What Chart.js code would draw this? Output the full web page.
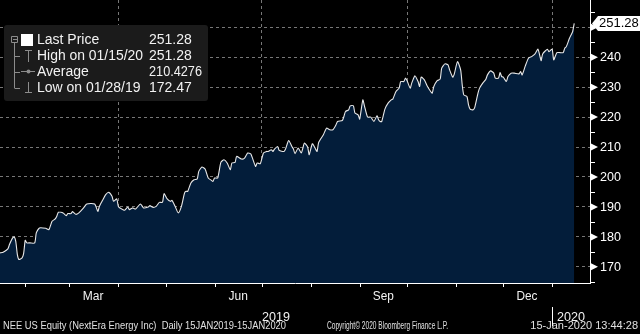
<!DOCTYPE html>
<html>
<head>
<meta charset="utf-8">
<script src="https://cdn.jsdelivr.net/npm/chart.js@4.4.1/dist/chart.umd.min.js"></script>
<style>
html,body{margin:0;padding:0;background:#000;}
canvas{display:block;}
</style>
</head>
<body>
<canvas id="myChart" width="640" height="334"></canvas>
<script>
// days counted from 15 Jan 2019, closing prices
const days = [
  1,3,6,7,9,10,11,12,13,15,16,17,18,20,23,24,26,30,32,34,36,37,38,41,43,44,46,47,49,51,54,56,61,63,64,66,68,70,72,73,75,76,
  77,80,82,83,85,87,90,92,95,96,98,100,102,104,105,107,109,110,112,114,116,118,119,120,122,124,126,127,129,131,133,135,136,137,139,141,143,145,147,148,150,
  151,154,156,158,160,163,164,166,168,170,171,173,174,175,177,178,181,182,184,186,187,188,190,192,193,194,196,197,199,201,202,203,206,208,210,212,214,215,218,219,220,222,
  223,225,226,228,229,231,232,234,236,238,240,241,242,243,245,247,249,250,252,254,255,257,258,259,261,262,264,266,267,268,270,272,274,275,276,278,280,281,283,285,286,288,289,291,293,
  294,295,297,298,299,301,302,304,305,307,309,310,312,314,315,317,318,319,320,322,323,325,327,330,331,332,334,336,338,340,342,344,345,348,349,351,352,354,356,358,359,360,362,363,364,365
];
const prices = [
  174.67,174.87,176.0,177.43,179.67,180.0,178.53,174.1,172.47,173.0,174.5,178.87,178.0,178.0,178.0,181.33,183.0,182.87,182.43,185.2,186.0,186.87,188.2,188.0,187.1,187.77,187.77,188.43,187.53,188.0,189.67,191.0,191.0,188.53,190.2,192.2,194.1,194.87,193.53,191.87,192.67,190.2,
  189.67,188.87,190.0,189.1,189.67,189.33,191.0,189.67,190.0,190.43,189.87,190.2,191.53,191.53,194.43,192.67,191.87,192.2,190.2,188.0,190.2,194.67,195.2,195.2,198.0,199.1,199.33,201.87,203.33,202.67,199.67,198.87,198.53,199.67,199.67,204.87,205.77,204.67,202.43,204.67,204.87,
  206.87,206.0,206.33,208.0,207.67,203.53,204.67,204.43,208.0,208.53,208.53,209.1,208.53,209.33,210.2,208.87,208.53,209.33,212.2,210.2,209.33,207.77,209.67,208.0,209.67,211.33,210.0,207.43,211.1,209.33,208.53,211.53,214.1,216.33,215.77,215.77,217.43,218.53,218.87,220.2,221.87,222.43,
  223.77,223.77,221.33,220.77,219.33,225.77,223.77,220.0,220.0,218.53,220.43,219.1,218.53,218.53,222.67,224.67,225.77,226.0,228.53,229.67,231.87,231.87,233.0,232.2,229.67,231.33,233.77,231.87,230.2,233.33,232.43,230.2,228.53,228.0,230.2,232.1,232.67,236.33,237.77,237.43,235.77,233.33,234.43,238.53,235.77,
  230.77,227.43,226.87,224.1,222.67,222.43,223.33,228.0,229.67,231.33,232.67,234.1,235.43,234.67,233.0,233.0,234.87,233.53,233.33,231.87,233.53,234.67,234.67,234.43,235.2,234.1,237.1,239.67,240.2,241.0,242.67,238.87,241.1,242.67,241.87,242.67,239.1,241.53,241.53,241.53,243.0,243.53,246.33,247.43,248.53,251.28
];

const yTicks = [170,180,190,200,210,220,230,240,250];
const yMinor = [165,175,185,195,205,215,225,235,245,255];
const quarterDays = [76,167,259,351];
const monthDays = [17,45,76,106,137,167,198,229,259,290,320,351];
const monthLabels = ["Mar","Jun","Sep","Dec"];
const monthLabelDays = [60,152,244,335];
const yearLabels = ["2019","2020"];
const yearLabelDays = [176,363];
const legendNames = ["Last Price","High on 01/15/20","Average","Low on 01/28/19"];
const legendValues = ["251.28","251.28","210.4276","172.47"];
const lastPrice = 251.28;
const footerLeft = "NEE US Equity (NextEra Energy Inc)  Daily 15JAN2019-15JAN2020";
const footerMid = "Copyright\u00a9 2020 Bloomberg Finance L.P.";
const footerRight = "15-Jan-2020 13:44:28";

const FONT = '"Liberation Sans", Arial, sans-serif';

const bbgDecor = {
  id: 'bbgDecor',
  afterDraw(chart){
    const c = chart.ctx, xs = chart.scales.x, ys = chart.scales.y, a = chart.chartArea;
    c.save();
    c.strokeStyle = '#fff';
    c.lineWidth = 1;
    // axis lines
    c.beginPath();
    c.moveTo(a.right + 0.5, 0); c.lineTo(a.right + 0.5, a.bottom + 1);
    c.moveTo(0, a.bottom + 0.5); c.lineTo(a.right + 1, a.bottom + 0.5);
    // minor y ticks
    yMinor.forEach(v=>{
      const y = Math.round(ys.getPixelForValue(v)) + 0.5;
      c.moveTo(a.right, y); c.lineTo(a.right + 5, y);
    });
    // x ticks at month starts
    monthDays.forEach(d=>{
      const x = Math.round(xs.getPixelForValue(d)) + 0.5;
      c.moveTo(x, a.bottom); c.lineTo(x, a.bottom + 4);
    });
    // year separator
    const sx = Math.round(xs.getPixelForValue(351)) + 0.5;
    c.moveTo(sx, a.bottom + 24); c.lineTo(sx, a.bottom + 43);
    c.stroke();

    // major y ticks as triangles + labels
    c.fillStyle = '#fff';
    c.font = '13px ' + FONT;
    c.textBaseline = 'middle';
    c.textAlign = 'left';
    yTicks.forEach(v=>{
      const y = ys.getPixelForValue(v);
      c.beginPath();
      c.moveTo(a.right + 1, y - 3.5); c.lineTo(a.right + 8, y); c.lineTo(a.right + 1, y + 3.5);
      c.closePath(); c.fill();
      if (v < 250) c.fillText(String(v), a.right + 10, y + 0.5, 21);
    });

    // last price tag
    const py = ys.getPixelForValue(lastPrice);
    c.beginPath();
    c.moveTo(a.right + 2, py);
    c.lineTo(a.right + 8, py - 7.5);
    c.lineTo(640, py - 7.5);
    c.lineTo(640, py + 7.5);
    c.lineTo(a.right + 8, py + 7.5);
    c.closePath();
    c.fillStyle = '#fff'; c.fill();
    c.fillStyle = '#000';
    c.fillText(lastPrice.toFixed(2), a.right + 9, py + 0.5, 40);

    // month / year labels
    c.fillStyle = '#f2f2f2';
    c.textAlign = 'center';
    c.font = '12px ' + FONT;
    monthLabels.forEach((m,i)=>{
      c.fillText(m, xs.getPixelForValue(monthLabelDays[i]), a.bottom + 14, 21);
    });
    c.font = '13px ' + FONT;
    yearLabels.forEach((t,i)=>{
      c.fillText(t, xs.getPixelForValue(yearLabelDays[i]), a.bottom + 34, 28);
    });

    // footer
    c.font = '11px ' + FONT;
    c.fillStyle = '#e0e0e0';
    c.textAlign = 'left';
    c.fillText(footerLeft, 3, 326, 283);
    c.fillText(footerMid, 327, 326, 121);
    c.textAlign = 'right';
    c.fillText(footerRight, 638, 326, 135);

    // legend box
    c.fillStyle = '#1b1b1b';
    c.beginPath();
    c.roundRect(4, 25, 204, 76, 3);
    c.fill();
    c.strokeStyle = '#8c8c8c';
    c.beginPath();
    c.rect(11.5, 36.5, 6, 6);
    c.moveTo(13, 39.5); c.lineTo(17, 39.5);
    c.moveTo(14.5, 43); c.lineTo(14.5, 88);
    [56.5, 72.5, 88.5].forEach(y=>{ c.moveTo(14.5, y); c.lineTo(20, y); });
    // high icon
    c.moveTo(25, 50.5); c.lineTo(32, 50.5);
    c.moveTo(28.5, 50); c.lineTo(28.5, 62);
    // average icon
    c.moveTo(21, 71.5); c.lineTo(35, 71.5);
    // low icon
    c.moveTo(28.5, 82); c.lineTo(28.5, 92);
    c.moveTo(25, 92.5); c.lineTo(32, 92.5);
    c.stroke();
    c.fillStyle = '#8c8c8c';
    c.beginPath(); c.arc(28.5, 71.5, 2, 0, Math.PI*2); c.fill();
    c.fillStyle = '#fff';
    c.fillRect(21, 34, 12, 12);

    c.fillStyle = '#f2f2f2';
    c.textAlign = 'left';
    c.font = '14px ' + FONT;
    const rowY = [40, 56, 72, 88];
    legendNames.forEach((n,i)=>{
      c.fillText(n, 37, rowY[i], 106);
      c.fillText(legendValues[i], 149, rowY[i], 53);
    });
    c.restore();
  }
};

const ctx = document.getElementById('myChart');
const myChart = new Chart(ctx, {
  type: 'line',
  data: {
    datasets: [{
      data: days.map((d,i)=>({x:d, y:prices[i]})),
      borderColor: '#e8e8e8',
      borderWidth: 1.1,
      backgroundColor: '#031d3a',
      fill: 'start',
      pointRadius: 0,
      tension: 0.2
    }]
  },
  options: {
    responsive: false,
    animation: false,
    devicePixelRatio: 1,
    layout: { padding: { left: 0, top: 0, right: 50, bottom: 51 } },
    plugins: { legend: { display: false }, tooltip: { enabled: false } },
    scales: {
      x: {
        type: 'linear', min: 1, max: 375, z: 1,
        ticks: { display: false },
        border: { display: false, dash: [3, 3] },
        grid: { drawTicks: false, color: 'rgba(170,170,170,0.7)' },
        afterBuildTicks: axis => { axis.ticks = quarterDays.map(v=>({value:v})); }
      },
      y: {
        position: 'right', min: 164.6, max: 259.1, z: 1,
        ticks: { display: false },
        border: { display: false, dash: [3, 3] },
        grid: { drawTicks: false, color: 'rgba(170,170,170,0.7)' },
        afterBuildTicks: axis => { axis.ticks = yTicks.map(v=>({value:v})); }
      }
    }
  },
  plugins: [bbgDecor]
});
</script>
</body>
</html>
